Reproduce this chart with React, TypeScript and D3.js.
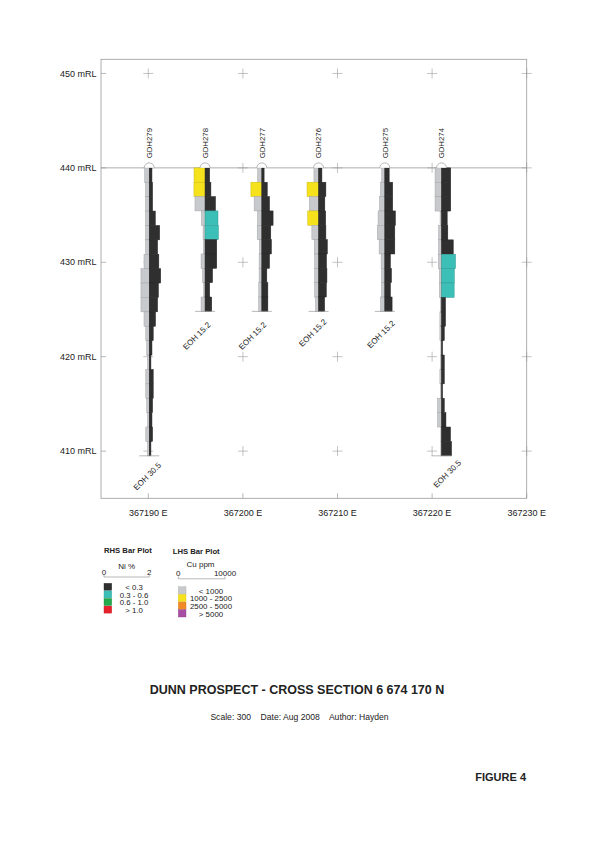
import React from 'react';
import * as d3 from 'd3';

// ---------- DATA ----------
const HOLE_IDS = ['GDH279', 'GDH278', 'GDH277', 'GDH276', 'GDH275', 'GDH274'];
const HOLE_EASTINGS = [367190.1, 367196, 367202, 367208, 367215, 367221];
const HOLE_DEPTHS = [30.5, 15.2, 15.2, 15.2, 15.2, 30.5];
const COLLAR_RL = 440;

// Cu ppm per interval (LHS bars)
const CU_GDH279 = [430, 350, 350, 350, 350, 350, 500, 790, 790, 790, 500, 330, 240, 160, 330, 330, 240, 160, 330, 160];
const CU_GDH278 = [1050, 1060, 960, 350, 190, 160, 380, 240, 130, 380];
const CU_GDH277 = [400, 1040, 730, 410, 440, 240, 260, 260, 290, 300];
const CU_GDH276 = [440, 1100, 880, 1030, 640, 410, 380, 380, 380, 290];
const CU_GDH275 = [290, 410, 500, 640, 710, 540, 350, 310, 310, 410];
const CU_GDH274 = [620, 620, 620, 140, 290, 290, 310, 210, 210, 120, 160, 160, 70, 100, 160, 100, 380, 380, 70, 70];

// Ni % per interval (RHS bars)
const NI_GDH279 = [0.065, 0.08, 0.08, 0.145, 0.25, 0.2, 0.23, 0.275, 0.22, 0.2, 0.15, 0.095, 0.065, 0.04, 0.095, 0.095, 0.08, 0.065, 0.08, 0.04];
const NI_GDH278 = [0.11, 0.14, 0.25, 0.31, 0.32, 0.28, 0.28, 0.18, 0.11, 0.16];
const NI_GDH277 = [0.055, 0.13, 0.185, 0.27, 0.215, 0.23, 0.185, 0.12, 0.145, 0.145];
const NI_GDH276 = [0.08, 0.175, 0.15, 0.17, 0.175, 0.21, 0.19, 0.2, 0.185, 0.145];
const NI_GDH275 = [0.105, 0.19, 0.19, 0.255, 0.24, 0.24, 0.135, 0.16, 0.135, 0.175];
const NI_GDH274 = [0.22, 0.22, 0.22, 0.135, 0.15, 0.28, 0.335, 0.305, 0.302, 0.095, 0.095, 0.065, 0.025, 0.065, 0.065, 0.025, 0.065, 0.105, 0.215, 0.24];

const CU_BY_HOLE = [CU_GDH279, CU_GDH278, CU_GDH277, CU_GDH276, CU_GDH275, CU_GDH274];
const NI_BY_HOLE = [NI_GDH279, NI_GDH278, NI_GDH277, NI_GDH276, NI_GDH275, NI_GDH274];

const X_TICKS = [367190, 367200, 367210, 367220, 367230];
const Y_TICKS = [410, 420, 430, 440, 450];

const NI_BREAKS = [0.3, 0.6, 1.0];
const NI_CLASS_LABELS = ['< 0.3', '0.3 - 0.6', '0.6 - 1.0', '> 1.0'];
const CU_BREAKS = [1000, 2500, 5000];
const CU_CLASS_LABELS = ['< 1000', '1000 - 2500', '2500 - 5000', '> 5000'];

// ---------- STYLE / LAYOUT ----------
const NI_COLORS = ['#2f2f2f', '#3cbfb7', '#22aa4c', '#e6212b'];
const CU_COLORS = ['#c8c9cc', '#f6e21c', '#f28b27', '#a64fa4'];
const FONT = '"Liberation Sans", Arial, Helvetica, sans-serif';
const TXT = '#222';
const GRID = '#9a9a9a';

const X_DOMAIN = [367185, 367230];
const Y_DOMAIN = [405, 451.5];
const PLOT = { left: 101, right: 526.7, top: 59.3, bottom: 498.3 };
const EOH_NUDGE: Record<string, [number, number]> = {
  GDH279: [12.4, 10],
  GDH278: [6, 14],
  GDH277: [5, 14],
  GDH276: [8.5, 11],
  GDH275: [10.5, 12.5],
  GDH274: [20, 7.5],
};

const x = d3.scaleLinear().domain(X_DOMAIN).range([PLOT.left, PLOT.right]);
const y = d3.scaleLinear().domain(Y_DOMAIN).range([PLOT.bottom, PLOT.top]);
const cuWidth = d3.scaleLinear().domain([0, 1000]).range([0, 10.5]);
const niWidth = d3.scaleLinear().domain([0, 1]).range([0, 41.7]);
const cuColor = d3.scaleThreshold<number, string>().domain(CU_BREAKS).range(CU_COLORS);
const niColor = d3.scaleThreshold<number, string>().domain(NI_BREAKS).range(NI_COLORS);
const darker = (c: string, k = 0.7) => (d3.color(c) as d3.RGBColor).darker(k).formatHex();

const crossArm = 5;

function Hole({ i }: { i: number }) {
  const id = HOLE_IDS[i];
  const cx = x(HOLE_EASTINGS[i]);
  const depth = HOLE_DEPTHS[i];
  const cu = CU_BY_HOLE[i];
  const ni = NI_BY_HOLE[i];
  const n = cu.length;
  const step = depth / n;
  const yTop = y(COLLAR_RL);
  const yEoh = y(COLLAR_RL - depth);
  const [nx, ny] = EOH_NUDGE[id];
  return (
    <g>
      <line x1={cx} x2={cx} y1={yTop} y2={yEoh} stroke="#555" strokeWidth={0.8} />
      {cu.map((v, k) => {
        const y0 = y(COLLAR_RL - k * step);
        const y1 = y(COLLAR_RL - (k + 1) * step);
        const w = cuWidth(v);
        const c = cuColor(v);
        return (
          <rect key={'cu' + k} x={cx - w} y={y0} width={w} height={y1 - y0} fill={c} stroke={darker(c, 0.55)} strokeWidth={0.5} />
        );
      })}
      {ni.map((v, k) => {
        const y0 = y(COLLAR_RL - k * step);
        const y1 = y(COLLAR_RL - (k + 1) * step);
        const w = niWidth(v);
        const c = niColor(v);
        return (
          <rect key={'ni' + k} x={cx} y={y0} width={w} height={y1 - y0} fill={c} stroke={darker(c, 0.6)} strokeWidth={0.5} />
        );
      })}
      <path d={`M${cx - 5},${yTop}A5,5 0 0 1 ${cx + 5},${yTop}`} fill="#fff" stroke="#999" strokeWidth={0.7} />
      <text
        transform={`translate(${cx + 2.8},${yTop - 9.5}) rotate(-90)`}
        fontSize={7.8}
        fontFamily={FONT}
        fill={TXT}
      >
        {id}
      </text>
      <line x1={cx - 10} x2={cx + 10} y1={yEoh} y2={yEoh} stroke={GRID} strokeWidth={0.7} />
      <text
        transform={`translate(${cx + nx},${yEoh + ny}) rotate(-45)`}
        textAnchor="end"
        fontSize={8}
        fontFamily={FONT}
        fill={TXT}
      >
        {`EOH ${depth.toFixed(1)}`}
      </text>
    </g>
  );
}

export default function App() {
  const surfaceY = y(COLLAR_RL);
  const niLeg = { x0: 104, x1: 149.3 };
  const cuLeg = { x0: 178.3, x1: 225 };
  return (
    <svg
      width={595}
      height={842}
      viewBox="0 0 595 842"
      style={{ position: 'absolute', left: 0, top: 0, background: '#fff' }}
      fontFamily={FONT}
    >
      <rect x={0} y={0} width={595} height={842} fill="#fff" />
      {/* frame */}
      <rect
        x={PLOT.left}
        y={PLOT.top}
        width={PLOT.right - PLOT.left}
        height={PLOT.bottom - PLOT.top}
        fill="none"
        stroke={GRID}
        strokeWidth={0.8}
      />
      {/* grid crosses */}
      {X_TICKS.map((xv) =>
        Y_TICKS.map((yv) => (
          <g key={`c${xv}-${yv}`} stroke={GRID} strokeWidth={0.6}>
            <line x1={x(xv) - crossArm} x2={x(xv) + crossArm} y1={y(yv)} y2={y(yv)} />
            <line x1={x(xv)} x2={x(xv)} y1={y(yv) - crossArm} y2={y(yv) + crossArm} />
          </g>
        ))
      )}
      {/* y ticks & labels */}
      {Y_TICKS.map((yv) => (
        <g key={'y' + yv}>
          <line x1={PLOT.left} x2={PLOT.left + 5} y1={y(yv)} y2={y(yv)} stroke={GRID} strokeWidth={0.7} />
          <text x={PLOT.left - 4.5} y={y(yv) + 3.2} textAnchor="end" fontSize={9} fill={TXT}>
            {`${yv} mRL`}
          </text>
        </g>
      ))}
      {/* x ticks & labels */}
      {X_TICKS.map((xv) => (
        <g key={'x' + xv}>
          <line x1={x(xv)} x2={x(xv)} y1={PLOT.bottom} y2={PLOT.bottom - 5} stroke={GRID} strokeWidth={0.7} />
          <text x={x(xv)} y={PLOT.bottom + 18} textAnchor="middle" fontSize={9} fill={TXT}>
            {`${xv} E`}
          </text>
        </g>
      ))}
      {/* surface line */}
      <line x1={PLOT.left} x2={PLOT.right} y1={surfaceY} y2={surfaceY} stroke={GRID} strokeWidth={0.8} />
      {/* holes */}
      {HOLE_IDS.map((_, i) => (
        <Hole key={HOLE_IDS[i]} i={i} />
      ))}

      {/* legend: RHS */}
      <text x={104} y={553} fontSize={7.7} fontWeight="bold" fill={TXT}>RHS Bar Plot</text>
      <text x={(niLeg.x0 + niLeg.x1) / 2} y={568.5} fontSize={8} textAnchor="middle" fill={TXT}>Ni %</text>
      <text x={niLeg.x0} y={575} fontSize={8} textAnchor="middle" fill={TXT}>0</text>
      <text x={niLeg.x1} y={575} fontSize={8} textAnchor="middle" fill={TXT}>2</text>
      <path d={`M${niLeg.x0},574.5V577H${niLeg.x1}V574.5`} fill="none" stroke="#888" strokeWidth={0.6} />
      {NI_CLASS_LABELS.map((lab, k) => (
        <g key={'nl' + k}>
          <rect x={104} y={583.3 + k * 7.6} width={7.7} height={7} fill={NI_COLORS[k]} stroke={darker(NI_COLORS[k], 0.5)} strokeWidth={0.4} />
          <text x={134} y={583.3 + k * 7.6 + 6.9} fontSize={7.8} textAnchor="middle" fill={TXT}>{lab}</text>
        </g>
      ))}

      {/* legend: LHS */}
      <text x={172.7} y={553.5} fontSize={7.7} fontWeight="bold" fill={TXT}>LHS Bar Plot</text>
      <text x={200.5} y={567} fontSize={8} textAnchor="middle" fill={TXT}>Cu ppm</text>
      <text x={cuLeg.x0} y={576} fontSize={8} textAnchor="middle" fill={TXT}>0</text>
      <text x={cuLeg.x1} y={576} fontSize={8} textAnchor="middle" fill={TXT}>10000</text>
      <path d={`M${cuLeg.x0},576.5V578.8H${cuLeg.x1}V576.5`} fill="none" stroke="#888" strokeWidth={0.6} />
      {CU_CLASS_LABELS.map((lab, k) => (
        <g key={'cl' + k}>
          <rect x={178.3} y={586.7 + k * 7.7} width={7.7} height={7.2} fill={CU_COLORS[k]} stroke={darker(CU_COLORS[k], 0.4)} strokeWidth={0.4} />
          <text x={211} y={586.7 + k * 7.7 + 7} fontSize={7.9} textAnchor="middle" fill={TXT}>{lab}</text>
        </g>
      ))}

      {/* titles */}
      <text x={297} y={694} fontSize={12.5} fontWeight="bold" textAnchor="middle" fill={TXT}>
        DUNN PROSPECT - CROSS SECTION 6 674 170 N
      </text>
      <text x={299.5} y={720} fontSize={8.6} textAnchor="middle" fill={TXT} style={{ whiteSpace: 'pre' }}>
        {'Scale: 300    Date: Aug 2008    Author: Hayden'}
      </text>
      <text x={526} y={781} fontSize={11} fontWeight="bold" textAnchor="end" fill={TXT}>
        FIGURE 4
      </text>
    </svg>
  );
}
